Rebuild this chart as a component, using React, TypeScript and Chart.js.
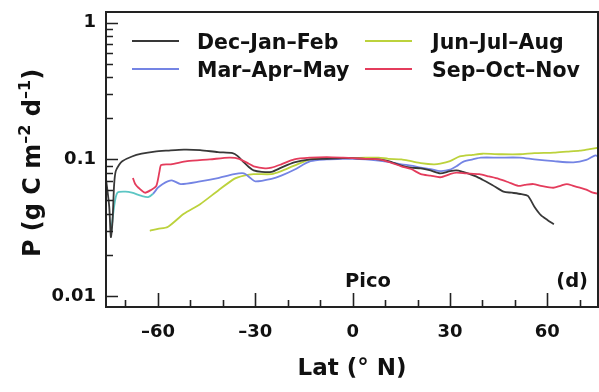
import React, { useEffect, useRef } from "react";
import { Chart, registerables } from "chart.js";

Chart.register(...registerables);

// ---------- data ----------
const seriesLabels = ["Dec–Jan–Feb", "Mar–Apr–May", "Jun–Jul–Aug", "Sep–Oct–Nov"];
const seriesColors = ["#383838", "#7484e4", "#bcd23c", "#e43c5c"];
const mamPolarColor = "#5cc6c4";

const latDJF = [-76, -75, -74.5, -74, -73.5, -73, -72, -71, -68, -65, -61, -57, -52, -47, -41.5, -37, -35.5, -33.5, -32, -30.5, -28, -25, -22, -18, -13, -8, -3, 0, 4, 8, 11, 15, 18, 21, 24, 27, 30, 32, 34, 35.5, 38, 40, 43, 46.5, 49, 52, 54, 56, 58, 60, 62];
const valDJF = [0.072, 0.045, 0.027, 0.035, 0.065, 0.082, 0.091, 0.097, 0.105, 0.11, 0.114, 0.116, 0.118, 0.117, 0.113, 0.111, 0.106, 0.095, 0.088, 0.083, 0.081, 0.081, 0.087, 0.095, 0.1, 0.101, 0.102, 0.102, 0.101, 0.1, 0.097, 0.09, 0.087, 0.086, 0.083, 0.079, 0.082, 0.083, 0.081, 0.079, 0.075, 0.071, 0.065, 0.058, 0.057, 0.0557, 0.054, 0.045, 0.039, 0.036, 0.0335];

const latMAM = [-74.5, -73.5, -72.5, -70, -68, -65, -63, -61.5, -60, -58.5, -57, -55.5, -53, -47, -41.5, -36.5, -33.5, -31.5, -30, -25, -22, -18, -13, -8, -3, 0, 4, 8, 11, 15, 18, 21, 24, 27, 30, 32, 34, 37, 39.5, 45, 51.5, 56, 62, 68, 72, 74.8, 76];
const valMAM = [0.028, 0.045, 0.057, 0.058, 0.057, 0.054, 0.053, 0.056, 0.062, 0.066, 0.069, 0.07, 0.066, 0.069, 0.073, 0.078, 0.079, 0.073, 0.069, 0.072, 0.076, 0.084, 0.097, 0.1, 0.101, 0.101, 0.1, 0.098, 0.096, 0.092, 0.09, 0.087, 0.085, 0.082, 0.084, 0.089, 0.096, 0.1, 0.103, 0.103, 0.103, 0.1, 0.097, 0.095, 0.099, 0.107, 0.103];

const latJJA = [-62.5, -60, -57, -52, -47, -41.5, -36.5, -33.5, -30.5, -25, -22, -18, -13, -8, -3, 0, 4, 8, 11, 15, 18, 21, 25, 27, 30, 33, 37, 40, 46, 51.5, 56, 62, 66, 70, 73, 76];
const valJJA = [0.03, 0.031, 0.032, 0.04, 0.047, 0.059, 0.072, 0.076, 0.078, 0.078, 0.082, 0.09, 0.1, 0.102, 0.102, 0.102, 0.103, 0.103, 0.101, 0.1, 0.097, 0.094, 0.092, 0.093, 0.097, 0.105, 0.108, 0.11, 0.109, 0.109, 0.111, 0.112, 0.114, 0.116, 0.119, 0.122];

const latSON = [-67.7, -67, -66, -64, -62, -60.5, -59.5, -59, -56, -51, -44, -38, -35, -32, -30.5, -27, -25, -22, -18, -13, -8, -3, 0, 4, 8, 11, 15, 18, 21, 24, 27, 30, 32, 35, 39, 42, 45, 48, 51, 53, 55.7, 58, 61.8, 64, 66, 68, 70, 72, 74, 76];
const valSON = [0.073, 0.066, 0.062, 0.057, 0.06, 0.064, 0.082, 0.091, 0.092, 0.097, 0.1, 0.103, 0.101, 0.093, 0.089, 0.086, 0.087, 0.092, 0.1, 0.103, 0.104, 0.103, 0.102, 0.101, 0.1, 0.096, 0.089, 0.085, 0.078, 0.076, 0.074, 0.078, 0.08, 0.079, 0.078, 0.075, 0.072, 0.068, 0.064, 0.065, 0.066, 0.064, 0.062, 0.064, 0.066, 0.064, 0.062, 0.06, 0.057, 0.056];

const xMin = -76;
const xMax = 75.6;
const yMin = 0.0083;
const yMax = 1.2;
const xTickValues = [-70, -60, -50, -40, -30, -20, -10, 0, 10, 20, 30, 40, 50, 60, 70];
const xLabelValues = [-60, -30, 0, 30, 60];
const yLabelValues = [0.01, 0.1, 1];

const FONT = "'DejaVu Sans', sans-serif";

function toPoints(lat: number[], val: number[]) {
  return lat.map((x, i) => ({ x, y: val[i] }));
}

function yTickValues(): number[] {
  const out: number[] = [];
  for (const dec of [0.01, 0.1]) {
    for (let k = 1; k <= 9; k++) out.push(+(dec * k).toPrecision(3));
  }
  out.push(1);
  return out;
}

const framePlugin = {
  id: "frameAndDecor",
  afterDraw(chart: any) {
    const { ctx, chartArea } = chart;
    const { left, right, top, bottom } = chartArea;
    const xs = chart.scales.x;
    const ys = chart.scales.y;
    ctx.save();
    // frame
    ctx.strokeStyle = "#222";
    ctx.lineWidth = 2;
    ctx.beginPath();
    ctx.moveTo(left, top);
    ctx.lineTo(right, top);
    ctx.lineTo(right, bottom);
    ctx.lineTo(left, bottom);
    ctx.closePath();
    ctx.stroke();
    // inward ticks
    ctx.lineWidth = 1.6;
    ctx.beginPath();
    for (const v of yTickValues()) {
      const y = Math.round(ys.getPixelForValue(v)) + 0.5;
      const major = yLabelValues.some((m) => Math.abs(m - v) < 1e-9);
      ctx.moveTo(left, y);
      ctx.lineTo(left + (major ? 12 : 7), y);
    }
    for (const v of xTickValues) {
      const x = Math.round(xs.getPixelForValue(v)) + 0.5;
      const major = xLabelValues.includes(v);
      ctx.moveTo(x, bottom);
      ctx.lineTo(x, bottom - (major ? 14 : 7));
    }
    ctx.stroke();

    // legend
    const legendPos = [
      { lx: 132, tx: 197, y: 41 },
      { lx: 132, tx: 197, y: 69 },
      { lx: 365, tx: 432, y: 41 },
      { lx: 365, tx: 432, y: 69 },
    ];
    ctx.font = `bold 20.5px ${FONT}`;
    ctx.textBaseline = "alphabetic";
    ctx.textAlign = "left";
    seriesLabels.forEach((lab, i) => {
      const p = legendPos[i];
      ctx.strokeStyle = seriesColors[i];
      ctx.lineWidth = 2;
      ctx.beginPath();
      ctx.moveTo(p.lx, p.y);
      ctx.lineTo(p.lx + 47, p.y);
      ctx.stroke();
      ctx.fillStyle = "#111";
      ctx.fillText(lab, p.tx, p.y + 7.5);
    });

    // annotations
    ctx.font = `bold 19.5px ${FONT}`;
    ctx.fillStyle = "#111";
    ctx.textAlign = "center";
    ctx.fillText("Pico", 368, 287);
    ctx.textAlign = "right";
    ctx.fillText("(d)", 588, 287);

    // x title
    ctx.font = `bold 23px ${FONT}`;
    ctx.textAlign = "center";
    ctx.fillText("Lat (° N)", 352, 375);

    // y title with superscripts
    const parts = [
      { t: "P (g C m", sup: false },
      { t: "–2", sup: true },
      { t: " d", sup: false },
      { t: "–1", sup: true },
      { t: ")", sup: false },
    ];
    const bigF = `bold 24px ${FONT}`;
    const supF = `bold 16px ${FONT}`;
    let total = 0;
    const widths = parts.map((p) => {
      ctx.font = p.sup ? supF : bigF;
      const w = ctx.measureText(p.t).width;
      total += w;
      return w;
    });
    ctx.translate(40, 163);
    ctx.rotate(-Math.PI / 2);
    ctx.textAlign = "left";
    let cx = -total / 2;
    parts.forEach((p, i) => {
      ctx.font = p.sup ? supF : bigF;
      ctx.fillText(p.t, cx, p.sup ? -10 : 0);
      cx += widths[i];
    });
    ctx.restore();
  },
};

export default function App() {
  const ref = useRef<HTMLCanvasElement | null>(null);
  useEffect(() => {
    document.body.style.margin = "0";
    const canvas = ref.current!;
    const allLat = [latDJF, latMAM, latJJA, latSON];
    const allVal = [valDJF, valMAM, valJJA, valSON];
    const orders = [2, 3, 4, 1];
    const datasets: any[] = seriesLabels.map((label, i) => ({
      label,
      data: toPoints(allLat[i], allVal[i]),
      borderColor: seriesColors[i],
      borderWidth: 1.8,
      pointRadius: 0,
      tension: 0.25,
      fill: false,
      order: orders[i],
      segment:
        i === 1
          ? {
              borderColor: (c: any) => (c.p1.parsed.x <= -61.5 ? mamPolarColor : undefined),
            }
          : undefined,
    }));
    const chart = new Chart(canvas, {
      type: "line",
      data: { datasets },
      plugins: [framePlugin],
      options: {
        animation: false,
        responsive: false,
        devicePixelRatio: 1,
        layout: { padding: { top: 12, right: 1, left: 0, bottom: 0 } },
        plugins: { legend: { display: false }, tooltip: { enabled: false } },
        scales: {
          x: {
            type: "linear",
            min: xMin,
            max: xMax,
            grid: { display: false, drawTicks: false },
            border: { display: false },
            afterBuildTicks: (s: any) => {
              s.ticks = xTickValues.map((v) => ({ value: v }));
            },
            afterFit: (s: any) => {
              s.height = 85;
              s.paddingLeft = 0;
              s.paddingRight = 0;
            },
            ticks: {
              autoSkip: false,
              maxRotation: 0,
              padding: 15,
              color: "#111",
              font: { family: FONT, size: 18, weight: "bold" },
              callback: (v: any) => {
                const n = Number(v);
                if (!xLabelValues.includes(n)) return "";
                return n < 0 ? "–" + Math.abs(n) : String(n);
              },
            },
          },
          y: {
            type: "logarithmic",
            min: yMin,
            max: yMax,
            grid: { display: false, drawTicks: false },
            border: { display: false },
            afterBuildTicks: (s: any) => {
              s.ticks = yTickValues().map((v) => ({ value: v }));
            },
            afterFit: (s: any) => {
              s.width = 106;
              s.paddingTop = 0;
              s.paddingBottom = 0;
            },
            ticks: {
              autoSkip: false,
              padding: 10,
              color: "#111",
              font: { family: FONT, size: 18, weight: "bold" },
              callback: (v: any) => {
                const n = Number(v);
                const m = yLabelValues.find((t) => Math.abs(t - n) < 1e-9);
                return m === undefined ? "" : String(m);
              },
            },
          },
        },
      },
    });
    return () => chart.destroy();
  }, []);
  return (
    <div style={{ width: 599, height: 392, background: "#fff" }}>
      <canvas ref={ref} width={599} height={392} style={{ display: "block" }} />
    </div>
  );
}
